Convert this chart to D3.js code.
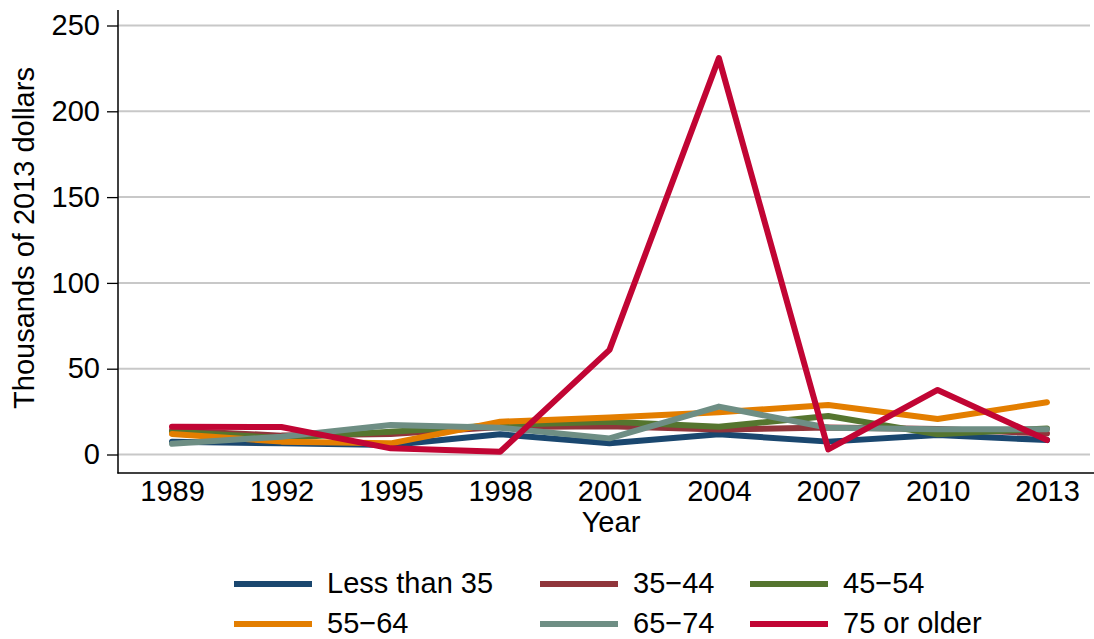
<!DOCTYPE html>
<html>
<head>
<meta charset="utf-8">
<script src="https://cdn.jsdelivr.net/npm/d3@7"></script>
<style>
  html, body { margin: 0; padding: 0; background: #fff; }
  svg { display: block; font-family: "Liberation Sans", Arial, sans-serif; }
</style>
</head>
<body>
<svg id="chart" width="1094" height="639"></svg>
<script>
const years = [1989, 1992, 1995, 1998, 2001, 2004, 2007, 2010, 2013];
const lessThan35 = [7.5, 6.5, 5.5, 11.8, 6.5, 11.8, 7.5, 11.4, 8.4];
const age35to44 = [14, 11, 12, 16, 16.5, 14.5, 15.8, 14.8, 12.3];
const age45to54 = [13.3, 9.6, 13.3, 17.2, 19.1, 16.2, 22.4, 11.8, 15.2];
const age55to64 = [12, 7.5, 6.5, 19.1, 21.5, 24.6, 28.8, 20.7, 30.4];
const age65to74 = [6.3, 10.4, 17.2, 15.6, 9.4, 27.9, 15.6, 14.7, 14.7];
const age75plus = [16.2, 16, 3.6, 1.6, 61, 231, 3, 37.6, 8.4];
const seriesNames = ["Less than 35", "35\u221244", "45\u221254", "55\u221264", "65\u221274", "75 or older"];
const seriesValues = [lessThan35, age35to44, age45to54, age55to64, age65to74, age75plus];
const seriesColors = ["#1a476f", "#90353b", "#55752f", "#e37e00", "#6e8e84", "#c10534"];
const yTicks = [0, 50, 100, 150, 200, 250];

const svg = d3.select("#chart");
const FS = 29;
const axisLeftX = 118, axisBottomY = 473, plotTop = 10, plotRight = 1094, gridRight = 1090;

const x = d3.scaleLinear().domain([1989, 2013]).range([172, 1047]);
const y = d3.scaleLinear().domain([0, 250]).range([454.5, 25.5]);

// gridlines
svg.append("g").selectAll("line").data(yTicks).join("line")
  .attr("x1", axisLeftX).attr("x2", gridRight)
  .attr("y1", d => y(d)).attr("y2", d => y(d))
  .attr("stroke", "#c8c8c8").attr("stroke-width", 2);

// y axis
const yAxis = svg.append("g").attr("transform", `translate(${axisLeftX},0)`)
  .call(d3.axisLeft(y).tickValues(yTicks).tickSize(11).tickPadding(7).tickFormat(d3.format("d")));
yAxis.select(".domain").remove();
yAxis.selectAll(".tick line").attr("stroke", "#000").attr("stroke-width", 1.3);
yAxis.selectAll(".tick text").attr("font-size", FS).attr("fill", "#000")
  .attr("font-family", "Liberation Sans, Arial, sans-serif");
svg.append("line").attr("x1", axisLeftX).attr("x2", axisLeftX)
  .attr("y1", plotTop).attr("y2", axisBottomY + 0.6)
  .attr("stroke", "#000").attr("stroke-width", 1.5);

// x axis
const xAxis = svg.append("g").attr("transform", `translate(0,${axisBottomY})`)
  .call(d3.axisBottom(x).tickValues(years).tickSize(0).tickPadding(7).tickFormat(d3.format("d")));
xAxis.select(".domain").remove();
xAxis.selectAll(".tick text").attr("font-size", FS).attr("fill", "#000")
  .attr("font-family", "Liberation Sans, Arial, sans-serif");
svg.append("line").attr("x1", axisLeftX - 0.6).attr("x2", plotRight)
  .attr("y1", axisBottomY).attr("y2", axisBottomY)
  .attr("stroke", "#000").attr("stroke-width", 1.5);

// axis titles
svg.append("text").attr("transform", "translate(34,238) rotate(-90)")
  .attr("text-anchor", "middle").attr("font-size", FS).attr("fill", "#000")
  .text("Thousands of 2013 dollars");
svg.append("text").attr("x", 611).attr("y", 532)
  .attr("text-anchor", "middle").attr("font-size", FS).attr("fill", "#000")
  .text("Year");

// lines
const line = d3.line().x((d, i) => x(years[i])).y(d => y(d));
svg.append("g").selectAll("path").data(seriesValues).join("path")
  .attr("d", d => line(d))
  .attr("fill", "none")
  .attr("stroke", (d, i) => seriesColors[i])
  .attr("stroke-width", 6)
  .attr("stroke-linejoin", "round")
  .attr("stroke-linecap", "round");

// legend
const colX = [234, 540, 750];
const rowY = [584, 624];
const leg = svg.append("g").selectAll("g").data(seriesNames).join("g")
  .attr("transform", (d, i) => `translate(${colX[i % 3]},${rowY[Math.floor(i / 3)]})`);
leg.append("line").attr("x1", 0).attr("x2", 78).attr("y1", 0).attr("y2", 0)
  .attr("stroke", (d, i) => seriesColors[i]).attr("stroke-width", 6);
leg.append("text").attr("x", 93).attr("y", 8.5)
  .attr("font-size", FS).attr("fill", "#000").text(d => d);
</script>
</body>
</html>
